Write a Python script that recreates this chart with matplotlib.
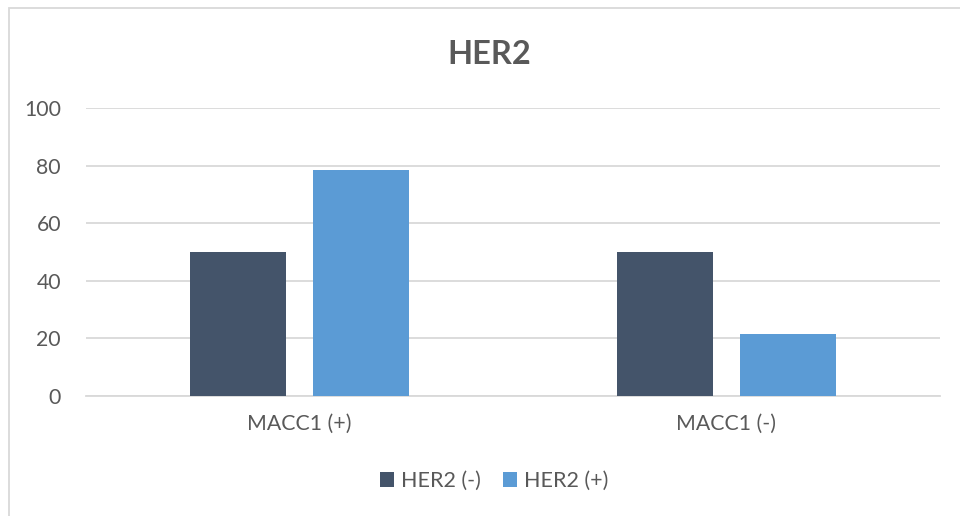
import matplotlib.pyplot as plt
from matplotlib.patches import Rectangle
import numpy as np

categories = ['MACC1 (+)', 'MACC1 (-)']
series_names = ['HER2 (-)', 'HER2 (+)']
her2_neg = [50, 50]
her2_pos = [78.6, 21.4]
yticks = [0, 20, 40, 60, 80, 100]

plt.rcParams['font.family'] = ['Lato', 'DejaVu Sans']
text_color = '#595959'
colors = ['#44546A', '#5B9BD5']

fig = plt.figure(figsize=(9.6, 5.16), dpi=100)
ax = fig.add_axes([86/960, 1-396/516, 854/960, 288/516])

x = np.arange(len(categories))
w = 0.225
off = w/2 + 0.0305
ax.bar(x - off, her2_neg, w, color=colors[0], label=series_names[0], zorder=3)
ax.bar(x + off, her2_pos, w, color=colors[1], label=series_names[1], zorder=3)

ax.set_xlim(-0.5, len(categories) - 0.5)
ax.set_ylim(0, 100)
ax.set_yticks(yticks)
ax.set_xticks(x)
ax.set_xticklabels(categories)
ax.yaxis.grid(True, color='#D9D9D9', linewidth=1.3, zorder=0)
for s in ['left', 'right', 'top']:
    ax.spines[s].set_visible(False)
ax.spines['bottom'].set_color('#D9D9D9')
ax.spines['bottom'].set_linewidth(1.3)
ax.tick_params(length=0, labelsize=15.3, labelcolor=text_color)
ax.tick_params(axis='y', pad=18)
ax.tick_params(axis='x', pad=13)

fig.text(489/960, 1-55/516, 'HER2', ha='center', va='center', fontsize=23.5,
         fontweight='bold', color=text_color)

leg = fig.legend(loc='center', bbox_to_anchor=(494/960, 1-481/516), ncol=2,
                 frameon=False, fontsize=15.5, handlelength=0.65, handleheight=0.65,
                 handletextpad=0.35, columnspacing=1.0)
for t in leg.get_texts():
    t.set_color(text_color)

fig.patches.append(Rectangle((9/960, -0.05), 1.2, 1 - 8/516 + 0.05,
                             transform=fig.transFigure, fill=False,
                             edgecolor='#D9D9D9', linewidth=1.3))

fig.savefig('out.png', dpi=100)
